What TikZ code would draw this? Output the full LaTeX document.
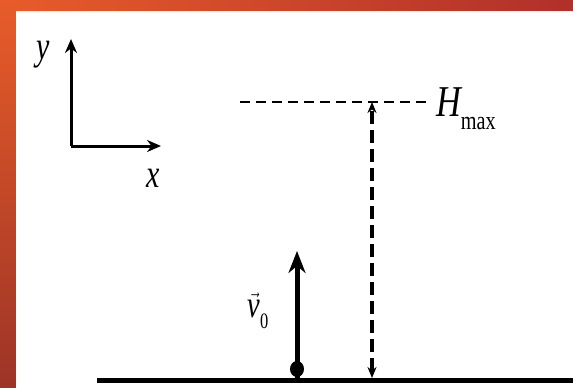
\documentclass[tikz,border=0pt]{standalone}
\usepackage{fontspec}
\setmainfont{Liberation Serif}
\usetikzlibrary{arrows.meta}
\definecolor{bgorange}{HTML}{E85C2A}
\definecolor{bgred}{HTML}{B0302A}
\definecolor{bgdark}{HTML}{9C3426}
\tikzset{
  axis/.style={line width=3pt, -{Stealth[length=14pt,width=12pt]}},
  lbl/.style={inner sep=0pt, font=\fontsize{40}{40}\selectfont\itshape, xscale=0.75},
  guide/.style={line width=2pt, dash pattern=on 10pt off 6pt},
  height/.style={line width=3.2pt, dash pattern=on 13pt off 6pt, {Stealth[length=11pt,width=9pt]}-{Stealth[length=11pt,width=9pt]}},
  ground/.style={line width=5pt},
  vel/.style={line width=5pt, -{Stealth[length=22pt,width=17pt]}}
}
\begin{document}
\begin{tikzpicture}[x=1pt,y=-1pt]
\useasboundingbox (0,0) rectangle (573,388);
% background
\shade[left color=bgorange, right color=bgred] (0,0) rectangle (573,388);
\shade[top color=bgorange, bottom color=bgdark] (0,0) rectangle (16,388);
\fill[white] (16,11) rectangle (573,388);
% axes
\coordinate (O) at (71,146);
\coordinate (Y) at (71,39);
\coordinate (X) at (161,146);
\draw[axis] (O) -- (Y);
\draw[axis] (O) -- (X);
\node[lbl] (ylab) at (43,55) {y};
\node[lbl] (xlab) at (153,178) {x};
% H max guide
\coordinate (g1) at (240,102);
\coordinate (g2) at (428,102);
\draw[guide] (g1) -- (g2);
\node[inner sep=0pt, anchor=base west, xscale=0.78] (hlab) at (436,116)
  {\fontsize{44}{44}\selectfont\itshape H\raisebox{-0.3em}{\fontsize{26}{26}\selectfont\upshape max}};
% ground
\coordinate (gl) at (97,380);
\coordinate (gr) at (573,380);
\draw[ground] (gl) -- (gr);
% height double arrow
\coordinate (ht) at (372,102);
\coordinate (hb) at (372,378);
\draw[height] (hb) -- (ht);
% velocity
\coordinate (v0) at (297,378);
\coordinate (vt) at (297,251);
\draw[vel] (v0) -- (vt);
\fill (297,369) ellipse (7 and 8);
\node[inner sep=0pt, xscale=0.75] (vlab) at (258,311)
  {\fontsize{38}{38}\selectfont$\vec{\textit{v}}$\raisebox{-0.3em}{\fontsize{22}{22}\selectfont 0}};
\end{tikzpicture}
\end{document}
